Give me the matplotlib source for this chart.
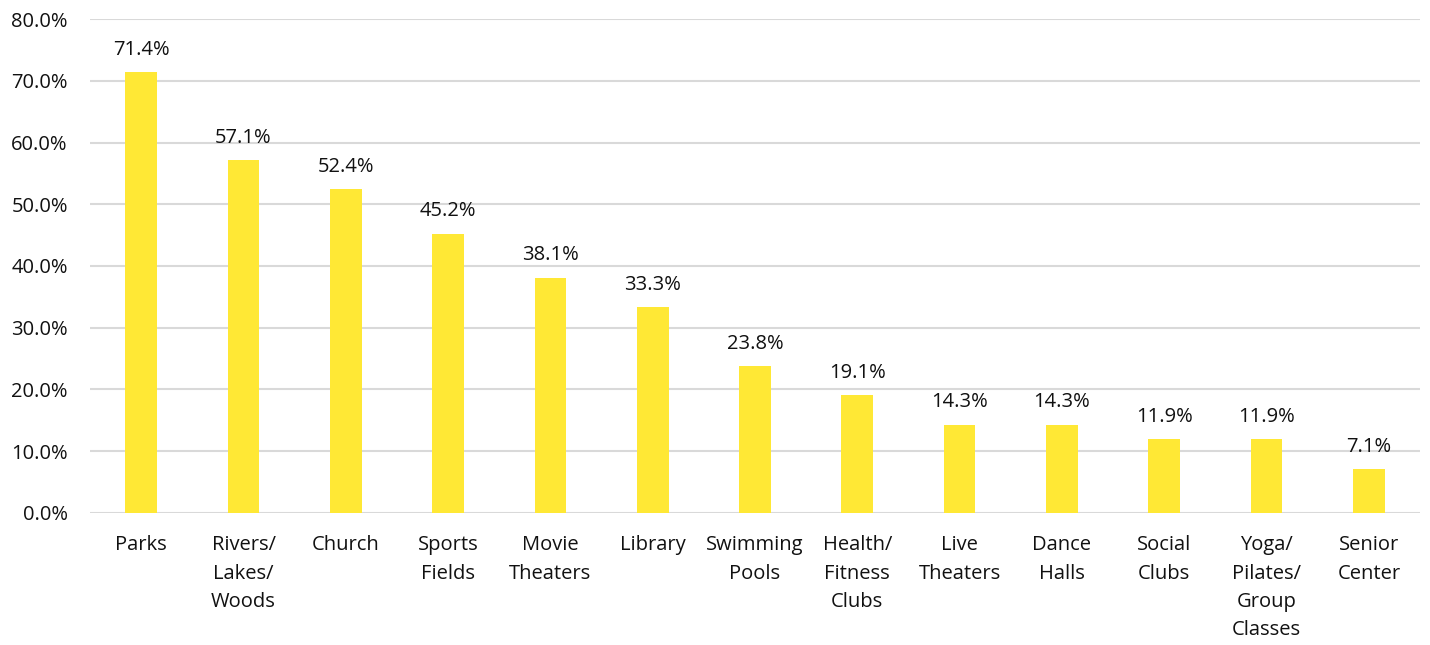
import matplotlib.pyplot as plt
import numpy as np

plt.rcParams['font.family'] = ['Open Sans', 'DejaVu Sans']

categories = ['Parks', 'Rivers/\nLakes/\nWoods', 'Church', 'Sports\nFields', 'Movie\nTheaters',
              'Library', 'Swimming\nPools', 'Health/\nFitness\nClubs', 'Live\nTheaters',
              'Dance\nHalls', 'Social\nClubs', 'Yoga/\nPilates/\nGroup\nClasses', 'Senior\nCenter']
values = [71.4, 57.1, 52.4, 45.2, 38.1, 33.3, 23.8, 19.1, 14.3, 14.3, 11.9, 11.9, 7.1]
yticks = [0, 10, 20, 30, 40, 50, 60, 70, 80]

fig = plt.figure(figsize=(14.3, 6.45), dpi=100)
ax = fig.add_axes([0.063, 0.2047, 0.93, 0.7658])

x = np.arange(len(categories))
bars = ax.bar(x, values, width=0.31, color='#FFE835', zorder=3)

for xi, v in zip(x, values):
    ax.annotate('%.1f%%' % v, (xi, v), xytext=(0, 9), textcoords='offset points',
                ha='center', va='bottom', fontsize=14.5, color='#111111')

ax.set_xlim(-0.5, len(categories) - 0.5)
ax.set_ylim(0, 80)
ax.set_yticks(yticks)
ax.set_yticklabels(['%.1f%%' % t for t in yticks], fontsize=14.5, color='#111111')
ax.set_xticks(x)
ax.set_xticklabels(categories, fontsize=14.5, color='#111111', linespacing=1.56, va='top')
ax.tick_params(axis='both', length=0)
ax.tick_params(axis='x', pad=16)
ax.tick_params(axis='y', pad=16)
ax.grid(axis='y', color='#d9d9d9', linewidth=1.5, zorder=0)
for s in ax.spines.values():
    s.set_visible(False)

fig.savefig('out.png', dpi=100)
